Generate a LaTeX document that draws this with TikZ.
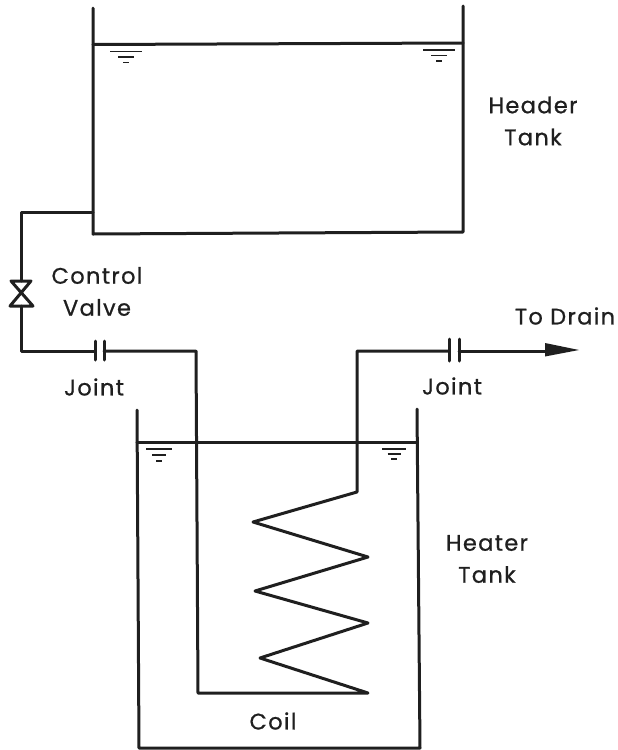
\documentclass[tikz,border=0pt]{standalone}
\usepackage{fontspec}
\setmainfont[LetterSpace=6,FakeBold=0.8]{Poppins}
\tikzset{
  x=1pt,y=-1pt,
  pipe/.style={line width=3pt,black!88,line cap=round,line join=round},
  lab/.style={font=\fontsize{22.5}{32}\selectfont,text=black!88,align=center,inner sep=0pt},
  lev/.style={line width=1.9pt,black!88}
}
\newcommand{\levmark}[6]{%
  \draw[lev] (#1-#3,#2) -- (#1+#3,#2);
  \draw[lev] (#1-#4,#2+#6) -- (#1+#4,#2+#6);
  \draw[lev] (#1-#5,#2+#6+#6) -- (#1+#5,#2+#6+#6);
}
\begin{document}
\begin{tikzpicture}
\useasboundingbox (0,0) rectangle (618,750);
% header tank
\coordinate (hTL) at (93,8);
\coordinate (hTR) at (463,6);
\coordinate (hBL) at (93,234);
\coordinate (hBR) at (463,232);
\draw[pipe] (hTL) -- (hBL) -- (hBR) -- (hTR);
\draw[pipe] (93,44.5) -- (463,43);
\levmark{126}{51.5}{16}{8}{3}{5.5}
\levmark{439}{50}{16}{8}{3}{5.5}
% pipe with valve
\coordinate (tap) at (93,212);
\coordinate (corner1) at (21,212);
\coordinate (v1) at (21,281);
\coordinate (v2) at (21,306);
\coordinate (corner2) at (21,351);
\coordinate (j1a) at (95,351);
\coordinate (j1b) at (104,351);
\coordinate (j1c) at (196,351);
\coordinate (coilbot) at (198,693);
\draw[pipe] (tap) -- (corner1) -- (v1);
\draw[pipe] (11,281) -- (31,281) -- (10,306) -- (33,306) -- cycle;
\draw[pipe] (v2) -- (corner2) -- (j1a);
\draw[pipe] (95,341) -- (95,360);
\draw[pipe] (104,341) -- (104,360);
\draw[pipe] (j1b) -- (j1c) -- (coilbot) -- (368,693) -- (260,658) -- (368,623) -- (255,591) -- (368,557) -- (253,522) -- (357,492) -- (357,351) -- (449,351);
\draw[pipe] (449,339) -- (449,361);
\draw[pipe] (459,339) -- (459,361);
% drain arrow
\coordinate (arrowTip) at (578,350);
\draw[pipe] (459,351) -- (548,351);
\fill[black!88] (545,343) -- (579,350) -- (545,356.5) -- cycle;
% heater tank
\draw[pipe] (137,410) -- (139,748) -- (420,748) -- (417,409);
\draw[pipe] (137,442) -- (417,442);
\levmark{159}{449}{13}{7}{3}{6}
\levmark{394}{449}{12}{6.5}{3}{5}
% labels
\node[lab] (header) at (533,121) {Header\\Tank};
\node[lab] (cv) at (97,291.5) {Control\\Valve};
\node[lab] (j1) at (94,387) {Joint};
\node[lab] (j2) at (452,386) {Joint};
\node[lab] (drain) at (565,316) {To Drain};
\node[lab] (heater) at (487,559) {Heater\\Tank};
\node[lab] (coil) at (273,721) {Coil};
\end{tikzpicture}
\end{document}
